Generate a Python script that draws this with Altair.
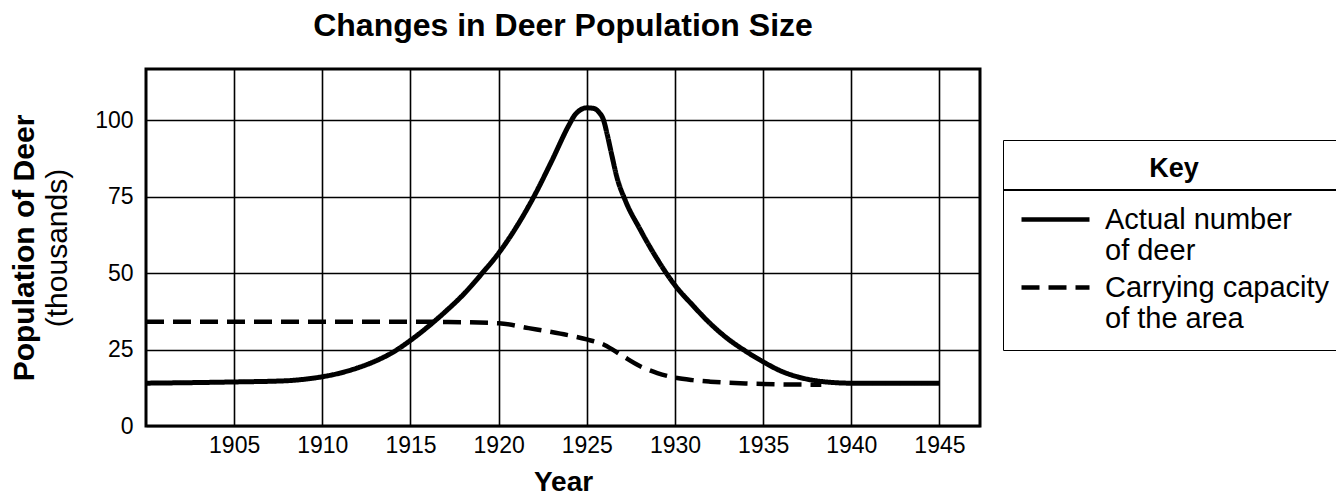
import altair as alt
import pandas as pd

FONT = "Liberation Sans"

# Actual number of deer (thousands)
actual_years = [1900, 1905, 1908, 1909, 1910, 1911, 1912, 1913, 1914, 1915,
                1916, 1917, 1918, 1919, 1920, 1921, 1922, 1923, 1924, 1924.3,
                1924.6, 1925, 1925.4, 1925.7, 1925.95, 1926.15, 1926.4, 1926.7, 1927.2, 1928,
                1929, 1930, 1931, 1932, 1933, 1934, 1935, 1936, 1937, 1938,
                1939, 1940, 1945]
actual_values = [14, 14.4, 14.8, 15.3, 16.1, 17.3, 19, 21.2, 24.1, 28,
                 32.5, 37.5, 43, 49.5, 56.5, 65, 75, 86.5, 98.5, 101.5,
                 103.2, 104, 103.8, 102.5, 100, 95.5, 89, 81.5, 73.5, 64.5,
                 54.5, 46, 39.5, 33.5, 28.5, 24.5, 21, 18, 16, 14.8,
                 14.2, 14, 14]

# Carrying capacity of the area (thousands)
capacity_years = [1900, 1905, 1910, 1915, 1917, 1920, 1921.7, 1923.5, 1925, 1926,
                  1927, 1928, 1929, 1930, 1931, 1932, 1934, 1936, 1938.3]
capacity_values = [34.1, 34.1, 34.1, 34.1, 34, 33.6, 32, 30.2, 28.3, 26.5,
                   23, 19.6, 17.3, 15.8, 15, 14.5, 13.9, 13.6, 13.5]

series_names = ["Actual number of deer", "Carrying capacity of the area"]
x_ticks = [1905, 1910, 1915, 1920, 1925, 1930, 1935, 1940, 1945]
y_ticks = [0, 25, 50, 75, 100]

df_a = pd.DataFrame({"year": actual_years, "pop": actual_values, "series": series_names[0]})
df_c = pd.DataFrame({"year": capacity_years, "pop": capacity_values, "series": series_names[1]})

x_scale = alt.Scale(domain=[1900, 1947.3], nice=False, zero=False)
y_dom = [0, 116.7]

dash_scale = alt.Scale(domain=series_names, range=[[1, 0], [18, 9]])

legend = alt.Legend(
    title="Key", titleFontSize=27, titleFontWeight="bold", titleAnchor="middle",
    titleColor="black", titleFont=FONT, titlePadding=17,
    orient="none", legendX=857, legendY=71, strokeColor="black", padding=16,
    symbolType="M-2,0L2,0", symbolSize=1156, symbolOffset=17,
    symbolStrokeWidth=4.5, symbolStrokeColor="black", symbolFillColor="transparent",
    labelFontSize=29, labelFont=FONT, labelColor="black", labelLimit=0, labelOffset=30,
    labelBaseline="middle", rowPadding=2,
    labelExpr="datum.label == 'Actual number of deer' ? ['Actual number', 'of deer'] : ['Carrying capacity', 'of the area']",
)

x_enc = alt.X("year:Q", scale=x_scale, axis=alt.Axis(
    values=x_ticks, format="d", labelFontSize=23, labelFont=FONT, labelColor="black",
    labelPadding=8, ticks=False, domain=False, grid=True, gridColor="black",
    gridWidth=1.6, gridOpacity=1, title="Year", titleFontSize=28, titleFont=FONT,
    titleFontWeight="bold", titleColor="black", titlePadding=11))

actual = alt.Chart(df_a).mark_line(color="black", strokeWidth=5, interpolate="monotone").encode(
    x=x_enc,
    y=alt.Y("pop:Q", scale=alt.Scale(domain=y_dom, nice=False), axis=alt.Axis(
        values=y_ticks, labelFontSize=23, labelFont=FONT, labelColor="black",
        labelPadding=13, ticks=False, domain=False, grid=True, gridColor="black",
        gridWidth=1.6, gridOpacity=1, title="(thousands)", titleFontSize=30,
        titleFont=FONT, titleFontWeight="normal", titleColor="black", titlePadding=22)),
    strokeDash=alt.StrokeDash("series:N", scale=dash_scale, legend=legend),
)

capacity = alt.Chart(df_c).mark_line(color="black", strokeWidth=4.5, interpolate="monotone").encode(
    x=alt.X("year:Q", scale=x_scale),
    y=alt.Y("pop:Q", scale=alt.Scale(domain=y_dom, nice=False), axis=alt.Axis(
        orient="left", labels=False, ticks=False, domain=False, grid=False,
        title="Population of Deer", titleFontSize=30, titleFont=FONT,
        titleFontWeight="bold", titleColor="black", titlePadding=107)),
    strokeDash=alt.StrokeDash("series:N", scale=dash_scale, legend=legend),
)

divider = alt.Chart(pd.DataFrame({"k": [0]})).mark_rule(color="black", strokeWidth=2, clip=False).encode(
    x=alt.value(857), x2=alt.value(1200), y=alt.value(121))

chart = alt.layer(actual, capacity, divider).resolve_scale(y="independent").properties(
    width=834, height=357,
    title=alt.TitleParams("Changes in Deer Population Size", fontSize=32, font=FONT,
                          fontWeight="bold", color="black", anchor="middle", offset=26),
    autosize=alt.AutoSizeParams(type="none"),
    padding={"left": 138, "top": 61, "right": 356, "bottom": 70},
).configure_view(stroke="black", strokeWidth=3)

chart.save("out.html", embed_options={"renderer": "svg", "actions": False})
